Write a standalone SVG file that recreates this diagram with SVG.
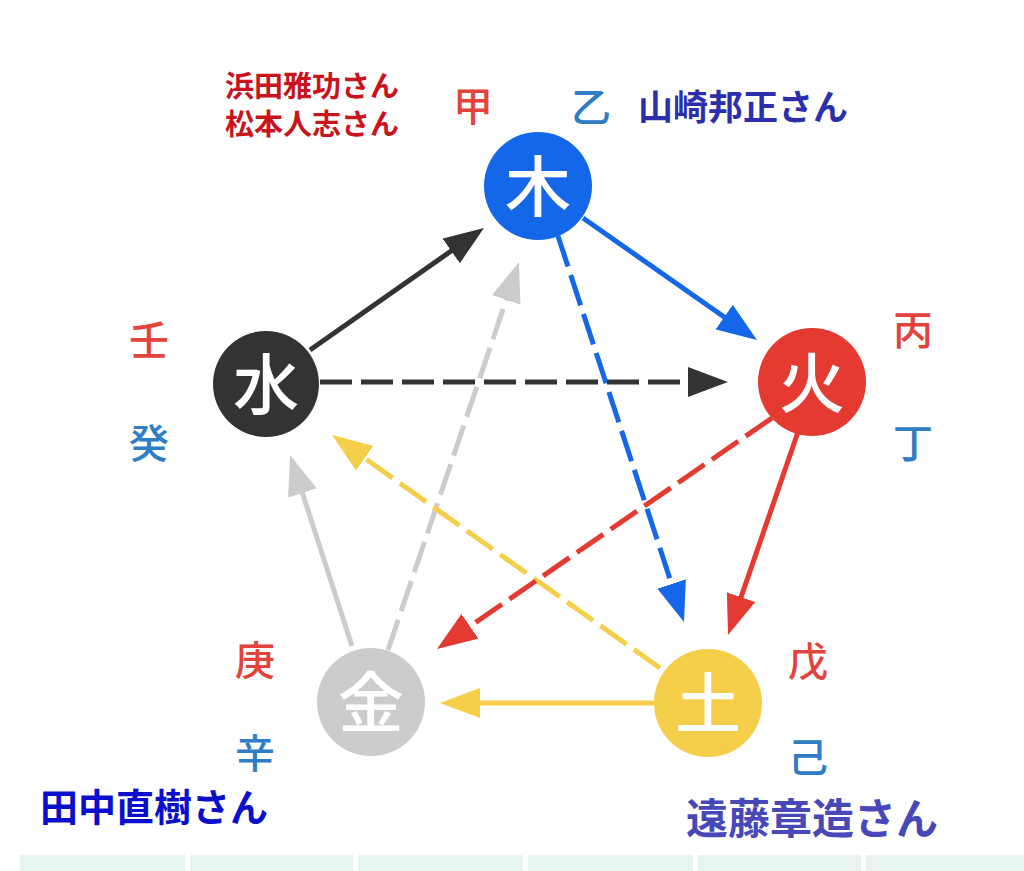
<svg xmlns="http://www.w3.org/2000/svg" width="1024" height="871" viewBox="0 0 1024 871">
<style>
.cjk{font-family:"Noto Sans CJK JP","Noto Sans CJK SC",sans-serif;}
.stem{font-size:40px;font-weight:500;text-anchor:middle;}
.yang{fill:#e2443c;}
.yin{fill:#2f7dc4;}
.node-t{font-size:66px;font-weight:500;fill:#ffffff;text-anchor:middle;}
.ln{fill:none;stroke-width:5;}
.dash{stroke-dasharray:32 9;}
.name{font-weight:700;}
</style>
<defs>
<marker id="aBlack" markerUnits="userSpaceOnUse" markerWidth="40" markerHeight="30" refX="10" refY="15" orient="auto"><path d="M0,0 L40,15 L0,30 z" fill="#333333"/></marker>
<marker id="aBlue" markerUnits="userSpaceOnUse" markerWidth="40" markerHeight="30" refX="10" refY="15" orient="auto"><path d="M0,0 L40,15 L0,30 z" fill="#1467e8"/></marker>
<marker id="aRed" markerUnits="userSpaceOnUse" markerWidth="40" markerHeight="30" refX="10" refY="15" orient="auto"><path d="M0,0 L40,15 L0,30 z" fill="#e53a32"/></marker>
<marker id="aYellow" markerUnits="userSpaceOnUse" markerWidth="40" markerHeight="30" refX="10" refY="15" orient="auto"><path d="M0,0 L40,15 L0,30 z" fill="#f6cf4a"/></marker>
<marker id="aGray" markerUnits="userSpaceOnUse" markerWidth="40" markerHeight="30" refX="10" refY="15" orient="auto"><path d="M0,0 L40,15 L0,30 z" fill="#cccccc"/></marker>
</defs>
<rect width="1024" height="871" fill="#ffffff"/>
<g id="bottom-strip" fill="#e8f4f0">
<rect x="20" y="855" width="165" height="16"/>
<rect x="190" y="855" width="163" height="16"/>
<rect x="358" y="855" width="165" height="16"/>
<rect x="528" y="855" width="165" height="16"/>
<rect x="698" y="855" width="163" height="16"/>
<rect x="866" y="855" width="158" height="16"/>
</g>
<g id="connectors">
<line class="ln" stroke="#cccccc" x1="352" y1="646" x2="299.3" y2="483.5" marker-end="url(#aGray)"/>
<line class="ln dash" stroke="#cccccc" x1="388" y1="650" x2="509.4" y2="290.4" marker-end="url(#aGray)"/>
<line class="ln dash" stroke="#f6cf4a" x1="660" y1="668" x2="356.5" y2="452.4" marker-end="url(#aYellow)"/>
<line class="ln" stroke="#f6cf4a" x1="655" y1="703" x2="470" y2="703" marker-end="url(#aYellow)"/>
<line class="ln dash" stroke="#e53a32" x1="772" y1="418" x2="461.7" y2="632" marker-end="url(#aRed)"/>
<line class="ln" stroke="#e53a32" x1="798" y1="432" x2="737.8" y2="606.6" marker-end="url(#aRed)"/>
<line class="ln dash" stroke="#1467e8" x1="558" y1="236" x2="674.7" y2="593.5" marker-end="url(#aBlue)"/>
<line class="ln" stroke="#1467e8" x1="583" y1="218" x2="732.4" y2="322.8" marker-end="url(#aBlue)"/>
<line class="ln dash" stroke="#333333" x1="320" y1="382" x2="698" y2="382" marker-end="url(#aBlack)"/>
<line class="ln" stroke="#333333" x1="310" y1="350" x2="459.4" y2="245.2" marker-end="url(#aBlack)"/>
</g>
<g id="node-wood">
<circle cx="538" cy="186" r="54" fill="#1467e8"/>
<text class="cjk node-t" x="538" y="211">木</text>
</g>
<g id="node-fire">
<circle cx="812" cy="382" r="54" fill="#e53a32"/>
<text class="cjk node-t" x="812" y="407">火</text>
</g>
<g id="node-water">
<circle cx="266" cy="384" r="53" fill="#333333"/>
<text class="cjk node-t" x="266" y="409">水</text>
</g>
<g id="node-metal">
<circle cx="371" cy="702" r="54" fill="#cccccc"/>
<text class="cjk node-t" x="371" y="727">金</text>
</g>
<g id="node-earth">
<circle cx="708" cy="703" r="54" fill="#f6cf4a"/>
<text class="cjk node-t" x="708" y="728">土</text>
</g>
<g id="stems">
<text class="cjk stem yang" x="473" y="121">甲</text>
<text class="cjk stem yin" x="591" y="122">乙</text>
<text class="cjk stem yang" x="913" y="345">丙</text>
<text class="cjk stem yin" x="913" y="458">丁</text>
<text class="cjk stem yang" x="149" y="355">壬</text>
<text class="cjk stem yin" x="149" y="458">癸</text>
<text class="cjk stem yang" x="255" y="675">庚</text>
<text class="cjk stem yin" x="255" y="768" font-size="38">辛</text>
<text class="cjk stem yang" x="808" y="676">戊</text>
<text class="cjk stem yin" x="808" y="772">己</text>
</g>
<g id="names">
<text class="cjk name" x="225" y="97" font-size="29" fill="#c8141a">浜田雅功さん</text>
<text class="cjk name" x="225" y="135" font-size="29" fill="#c8141a">松本人志さん</text>
<text class="cjk name" x="638" y="120" font-size="35" fill="#2b2fae">山崎邦正さん</text>
<text class="cjk name" x="40" y="821" font-size="38" fill="#0b0fcc">田中直樹さん</text>
<text class="cjk name" x="686" y="834" font-size="42" fill="#4848b8">遠藤章造さん</text>
</g>
</svg>
